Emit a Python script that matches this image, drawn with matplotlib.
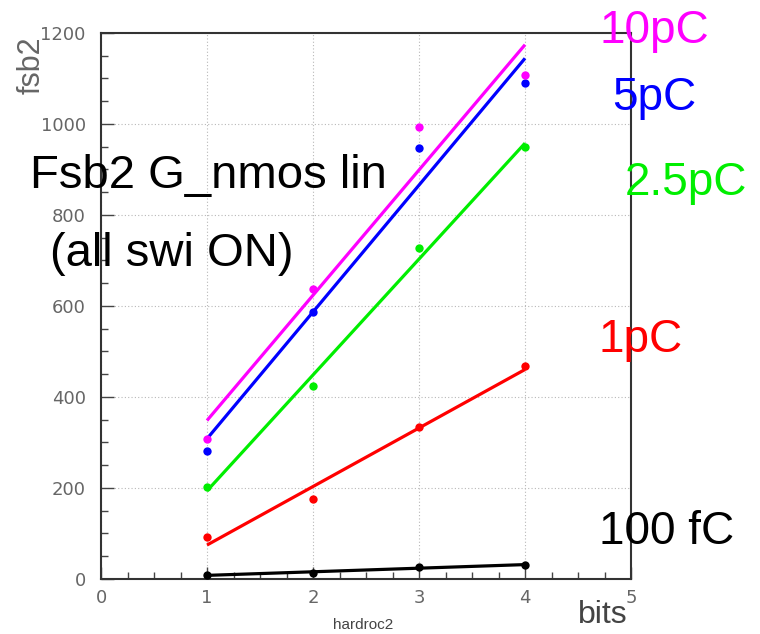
import numpy as np
import matplotlib
matplotlib.use("Agg")
import matplotlib.pyplot as plt
from matplotlib.ticker import MultipleLocator

plt.rcParams['font.family'] = ['Liberation Sans', 'DejaVu Sans']

# data (bits -> fsb2)
bits = [1, 2, 3, 4]
fsb2_100fC = [9, 13, 26, 31]
fsb2_1pC = [92, 176, 334, 468]
fsb2_2p5pC = [202, 424, 727, 950]
fsb2_5pC = [281, 587, 947, 1090]
fsb2_10pC = [308, 637, 993, 1107]

series = [
  ("100 fC", fsb2_100fC, "black"),
  ("1pC", fsb2_1pC, "#ff0000"),
  ("2.5pC", fsb2_2p5pC, "#00ee00"),
  ("5pC", fsb2_5pC, "#0000ff"),
  ("10pC", fsb2_10pC, "#ff00ff"),
]

fig = plt.figure(figsize=(7.6, 6.34), dpi=100)
ax = fig.add_axes([0.1329, 0.0868, 0.6974, 0.8612])

x = np.array(bits)
for name, y, col in series:
  # linear fit drawn across the measured range
  k, b = np.polyfit(x, y, 1)
  ax.plot(x, k * x + b, color=col, lw=2.3, solid_capstyle='butt', zorder=3)
  ax.plot(x, y, 'o', color=col, ms=6, mec='none', zorder=4)

ax.set_xlim(0, 5)
ax.set_ylim(0, 1200)
ax.xaxis.set_major_locator(MultipleLocator(1))
ax.xaxis.set_minor_locator(MultipleLocator(0.25))
ax.yaxis.set_major_locator(MultipleLocator(200))
ax.yaxis.set_minor_locator(MultipleLocator(50))
ax.grid(True, which='major', color='#b8b8b8', ls=(0, (1, 2)), lw=0.8)
ax.tick_params(which='both', direction='in', colors='#444444', labelcolor='#666666', labelsize=13)
ax.tick_params(which='major', length=9, width=1)
ax.tick_params(which='minor', length=5, width=1)
ax.tick_params(axis='x', pad=7)
ax.tick_params(axis='y', pad=11)
for lab in ax.get_xticklabels() + ax.get_yticklabels():
  lab.set_family('DejaVu Sans')
for s in ax.spines.values():
  s.set_color('#333333')
  s.set_linewidth(1.5)

fig.text(0.041, 0.897, "fsb2", rotation=90, fontsize=22, color='#666666', ha='center', va='center')
fig.text(0.761, 0.018, "bits", fontsize=23, color='#444444', ha='left', va='baseline')
fig.text(0.438, 0.008, "hardroc2", fontsize=11, color='#444444', ha='left', va='baseline')

fig.text(0.039, 0.7035, "Fsb2 G_nmos lin", fontsize=34, color='black', va='baseline')
fig.text(0.066, 0.580, "(all swi ON)", fontsize=34, color='black', va='baseline')

fig.text(0.789, 0.932, "10pC", fontsize=33, color='#ff00ff', va='baseline')
fig.text(0.806, 0.826, "5pC", fontsize=33, color='#0000ff', va='baseline')
fig.text(0.822, 0.692, "2.5pC", fontsize=33, color='#00ee00', va='baseline')
fig.text(0.788, 0.445, "1pC", fontsize=33, color='#ff0000', va='baseline')
fig.text(0.788, 0.142, "100 fC", fontsize=33, color='black', va='baseline')

fig.savefig("out.png", dpi=100)
